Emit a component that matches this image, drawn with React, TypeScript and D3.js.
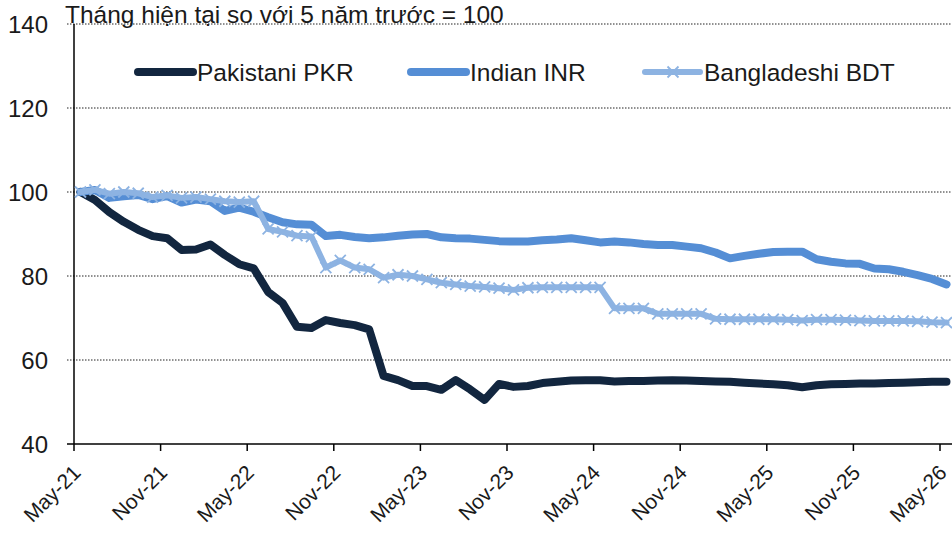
import React from "react";
import * as d3 from "d3";

const W = 952;
const H = 533;

const tickLabels = ["May-21", "Nov-21", "May-22", "Nov-22", "May-23", "Nov-23", "May-24", "Nov-24", "May-25", "Nov-25", "May-26"];
const yTicks = [40, 60, 80, 100, 120, 140];

const pkr = [
  100, 98.1, 95.2, 92.9, 91.0, 89.5, 89.0, 86.2, 86.3, 87.5,
  85.0, 82.8, 81.8, 76.2, 73.6, 67.9, 67.6, 69.5, 68.8, 68.3,
  67.3, 56.2, 55.2, 53.8, 53.8, 52.9, 55.2, 53.0, 50.5, 54.3,
  53.6, 53.8, 54.5, 54.8, 55.1, 55.2, 55.2, 54.9, 55.0, 55.0,
  55.1, 55.2, 55.1, 55.0, 54.9, 54.8, 54.6, 54.4, 54.2, 54.0,
  53.5, 54.0, 54.2, 54.3, 54.4, 54.4, 54.5, 54.6, 54.7, 54.8,
  54.8,
];

const inr = [
  100, 100.5, 98.6, 99.0, 99.3, 98.3, 99.0, 97.5, 98.2, 97.8,
  95.5, 96.3, 95.3, 94.0, 92.8, 92.3, 92.2, 89.5, 89.8, 89.3,
  89.0, 89.2, 89.6, 89.9, 90.0, 89.2, 89.0, 88.9, 88.6, 88.3,
  88.2, 88.2, 88.5, 88.7, 89.0, 88.5, 88.0, 88.2, 88.0, 87.6,
  87.4, 87.4, 87.0, 86.6, 85.6, 84.2, 84.8, 85.3, 85.7, 85.8,
  85.8, 84.0, 83.4, 83.0, 82.9, 81.8, 81.6, 81.0, 80.2, 79.3,
  78.0,
];

const bdt = [
  100, 100.5, 99.6, 100.0, 99.7, 98.8, 99.2, 98.6, 98.8, 98.3,
  97.8, 97.6, 97.8, 91.2, 90.5, 89.6, 89.4, 82.0, 83.7, 82.0,
  81.6, 79.6, 80.3, 80.0, 79.2, 78.4, 78.0, 77.6, 77.4, 77.1,
  76.7, 77.2, 77.3, 77.3, 77.3, 77.3, 77.3, 72.3, 72.3, 72.3,
  71.0, 71.0, 71.0, 71.0, 69.8, 69.7, 69.7, 69.7, 69.7, 69.6,
  69.4, 69.6, 69.6, 69.5, 69.4, 69.3, 69.3, 69.3, 69.2, 69.0,
  68.9,
];

const seriesNames = ["Pakistani PKR", "Indian INR", "Bangladeshi BDT"];
const seriesColors = ["#12263f", "#558ed5", "#8db3e2"];
const title = "Tháng hiện tại so với 5 năm trước = 100";

const FONT = "'Liberation Sans', Arial, sans-serif";

export default function App() {
  const x = d3.scaleLinear().domain([0, 60]).range([74, 940]);
  const y = d3.scaleLinear().domain([40, 140]).range([444, 24]);
  const px = (i: number) => x(i + 0.45);

  const line = d3
    .line<number>()
    .x((_, i) => px(i))
    .y((d) => y(d));

  const series = [pkr, inr, bdt];
  const widths = [8, 8, 6];
  const legendX = [138, 411, 645];

  const xMarker = (cx: number, cy: number, r: number, key: string) => (
    <path
      key={key}
      d={`M${cx - r},${cy - r}L${cx + r},${cy + r}M${cx - r},${cy + r}L${cx + r},${cy - r}`}
      stroke={seriesColors[2]}
      strokeWidth={1.8}
      fill="none"
    />
  );

  return (
    <svg
      width={W}
      height={H}
      style={{ position: "absolute", left: 0, top: 0, background: "#fff" }}
      fontFamily={FONT}
    >
      <rect width={W} height={H} fill="#fff" />
      {/* gridlines */}
      {yTicks.slice(1).map((t) => (
        <line
          key={t}
          x1={67}
          x2={W}
          y1={y(t)}
          y2={y(t)}
          stroke="#222"
          strokeWidth={1}
          strokeDasharray="1.5,1.5"
        />
      ))}
      {/* y labels */}
      {yTicks.map((t) => (
        <text key={t} x={48} y={y(t)} dy="0.36em" textAnchor="end" fontSize={24} fill="#1a1a1a">
          {t}
        </text>
      ))}
      {/* axes */}
      <line x1={74} x2={74} y1={y(140)} y2={y(40)} stroke="#000" strokeWidth={1.5} />
      <line x1={67} x2={W} y1={y(40)} y2={y(40)} stroke="#000" strokeWidth={1.5} />
      {tickLabels.map((lab, i) => {
        const tx = x(i * 6);
        return (
          <g key={lab}>
            <line x1={tx} x2={tx} y1={y(40)} y2={y(40) + 7} stroke="#000" strokeWidth={1.5} />
            <text
              transform={`translate(${tx + 8},${y(40) + 30}) rotate(-45)`}
              textAnchor="end"
              fontSize={21}
              fill="#1a1a1a"
            >
              {lab}
            </text>
          </g>
        );
      })}
      {/* title */}
      <text x={65} y={23} fontSize={24.5} fill="#1a1a1a">
        {title}
      </text>
      {/* lines */}
      {series.map((s, si) => (
        <path
          key={si}
          d={line(s) || ""}
          fill="none"
          stroke={seriesColors[si]}
          strokeWidth={widths[si]}
          strokeLinejoin="round"
          strokeLinecap="round"
        />
      ))}
      {bdt.map((v, i) => xMarker(px(i), y(v), 5.5, "m" + i))}
      {/* legend */}
      {seriesNames.map((name, i) => (
        <g key={name}>
          <line
            x1={legendX[i]}
            x2={legendX[i] + 55}
            y1={72}
            y2={72}
            stroke={seriesColors[i]}
            strokeWidth={widths[i]}
            strokeLinecap="round"
          />
          {i === 2 && xMarker(legendX[i] + 28, 72, 5.5, "lm")}
          <text x={legendX[i] + 59} y={81} fontSize={24.5} fill="#1a1a1a">
            {name}
          </text>
        </g>
      ))}
    </svg>
  );
}
